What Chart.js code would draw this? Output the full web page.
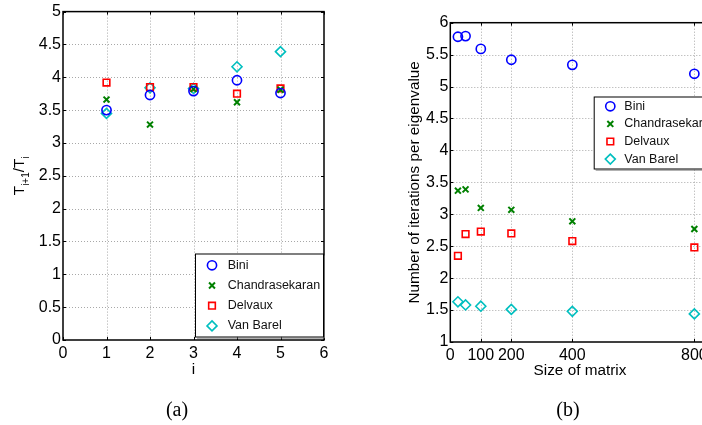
<!DOCTYPE html>
<html><head><meta charset="utf-8">
<script src="https://cdn.jsdelivr.net/npm/chart.js@4/dist/chart.umd.min.js"></script>
<style>
html,body{margin:0;padding:0;background:#fff;overflow:hidden;width:702px;height:425px;}
#wrap{position:relative;width:702px;height:425px;overflow:hidden;background:#fff;}
#ca{position:absolute;left:0;top:0;}
#cb{position:absolute;left:351px;top:0;}
.cap{position:absolute;top:399px;font-family:"Liberation Serif","Times New Roman",serif;font-size:20px;line-height:20px;color:#000;width:60px;text-align:center;}
</style></head><body>
<div id="wrap">
<canvas id="ca" width="351" height="425"></canvas>
<canvas id="cb" width="400" height="425"></canvas>
<div class="cap" style="left:147px">(a)</div>
<div class="cap" style="left:538px">(b)</div>
</div>
<script>
// ---------- data ----------
const seriesNames = ['Bini', 'Chandrasekaran', 'Delvaux', 'Van Barel'];

// Panel (a): ratio T_{i+1}/T_i versus i
const iValues = [1, 2, 3, 4, 5];
const ratioBini = [3.50, 3.73, 3.79, 3.955, 3.76];
const ratioChandrasekaran = [3.66, 3.28, 3.82, 3.62, 3.81];
const ratioDelvaux = [3.92, 3.85, 3.85, 3.75, 3.83];
const ratioVanBarel = [3.45, 3.84, 3.83, 4.16, 4.39];

// Panel (b): iterations per eigenvalue versus matrix size
const matrixSizes = [25, 50, 100, 200, 400, 800];
const itersBini = [5.78, 5.79, 5.59, 5.42, 5.34, 5.20];
const itersChandrasekaran = [3.37, 3.39, 3.10, 3.07, 2.89, 2.77];
const itersDelvaux = [2.35, 2.69, 2.73, 2.70, 2.58, 2.48];
const itersVanBarel = [1.63, 1.58, 1.56, 1.51, 1.48, 1.44];
const sizeTicks = [0, 100, 200, 400, 800];

// ---------- styles ----------
const markerStyles = [
  {shape: 'circle',   color: '#0000ff', radius: 4.6, width: 1.6},
  {shape: 'crossRot', color: '#008000', radius: 4.2, width: 2},
  {shape: 'rect',     color: '#ff0000', radius: 4.7, width: 1.6},
  {shape: 'rectRot',  color: '#00bfbf', radius: 5,   width: 1.6}
];
const FONT = '"Liberation Sans", Arial, Helvetica, sans-serif';

function makeDatasets(xs, ys) {
  return ys.map((vals, k) => ({
    label: seriesNames[k],
    data: xs.map((x, j) => ({x: x, y: vals[j]})),
    showLine: false,
    pointStyle: markerStyles[k].shape,
    pointRadius: markerStyles[k].radius,
    pointHoverRadius: markerStyles[k].radius,
    pointBorderWidth: markerStyles[k].width,
    borderColor: markerStyles[k].color,
    backgroundColor: 'rgba(0,0,0,0)',
    clip: false
  }));
}

function drawMarker(ctx, st, x, y) {
  ctx.save();
  ctx.strokeStyle = st.color; ctx.lineWidth = st.width;
  ctx.beginPath();
  const r = st.radius;
  if (st.shape === 'circle') { ctx.arc(x, y, r, 0, Math.PI * 2); }
  else if (st.shape === 'crossRot') { const d = r * Math.SQRT1_2; ctx.moveTo(x - d, y - d); ctx.lineTo(x + d, y + d); ctx.moveTo(x + d, y - d); ctx.lineTo(x - d, y + d); }
  else if (st.shape === 'rect') { const s = r * Math.SQRT1_2; ctx.rect(x - s, y - s, 2 * s, 2 * s); }
  else { ctx.moveTo(x, y - r); ctx.lineTo(x + r, y); ctx.lineTo(x, y + r); ctx.lineTo(x - r, y); ctx.closePath(); }
  ctx.stroke();
  ctx.restore();
}

const decor = {
  id: 'decor',
  beforeDatasetsDraw(chart) {
    const ctx = chart.ctx, a = chart.chartArea, xs = chart.scales.x, ys = chart.scales.y;
    ctx.save();
    ctx.strokeStyle = '#a8a8a8'; ctx.lineWidth = 1; ctx.setLineDash([1, 2]);
    ctx.beginPath();
    xs.ticks.forEach(t => { const p = Math.round(xs.getPixelForValue(t.value)) + 0.5; if (p > a.left + 1 && p < a.right - 1) { ctx.moveTo(p, a.top); ctx.lineTo(p, a.bottom); } });
    ys.ticks.forEach(t => { const p = Math.round(ys.getPixelForValue(t.value)) + 0.5; if (p > a.top + 1 && p < a.bottom - 1) { ctx.moveTo(a.left, p); ctx.lineTo(a.right, p); } });
    ctx.stroke();
    ctx.restore();
  },
  afterDraw(chart, args, o) {
    const ctx = chart.ctx, a = chart.chartArea, xs = chart.scales.x, ys = chart.scales.y;
    ctx.save();
    // inward tick marks
    ctx.strokeStyle = '#000'; ctx.lineWidth = 1; ctx.setLineDash([]);
    ctx.beginPath();
    xs.ticks.forEach(t => { const p = Math.round(xs.getPixelForValue(t.value)) + 0.5; ctx.moveTo(p, a.bottom); ctx.lineTo(p, a.bottom - 3); ctx.moveTo(p, a.top); ctx.lineTo(p, a.top + 3); });
    ys.ticks.forEach(t => { const p = Math.round(ys.getPixelForValue(t.value)) + 0.5; ctx.moveTo(a.left, p); ctx.lineTo(a.left + 3, p); ctx.moveTo(a.right, p); ctx.lineTo(a.right - 3, p); });
    ctx.stroke();
    // axes box
    ctx.lineWidth = 1.5;
    ctx.strokeRect(a.left, a.top, a.right - a.left, a.bottom - a.top);
    // x title
    ctx.fillStyle = '#000';
    ctx.font = '15.3px ' + FONT; ctx.textAlign = 'center'; ctx.textBaseline = 'alphabetic';
    ctx.fillText(o.xTitle, (a.left + a.right) / 2, a.bottom + o.xTitleDy);
    // y title (rotated, with optional subscripts)
    ctx.save();
    ctx.translate(a.left - o.yTitleDx, (a.top + a.bottom) / 2);
    ctx.rotate(-Math.PI / 2);
    let total = 0;
    o.yTitle.forEach(p => { ctx.font = p.size + 'px ' + FONT; p.w = ctx.measureText(p.text).width; total += p.w; });
    let x = -total / 2; ctx.textAlign = 'left';
    o.yTitle.forEach(p => { ctx.font = p.size + 'px ' + FONT; ctx.fillText(p.text, x, p.dy); x += p.w; });
    ctx.restore();
    // legend
    const L = o.legend;
    ctx.fillStyle = '#fff';
    ctx.fillRect(L.x, L.y, L.w, L.h);
    ctx.strokeStyle = '#000'; ctx.lineWidth = 1;
    ctx.strokeRect(L.x + 0.5, L.y + 0.5, L.w, L.h);
    ctx.strokeStyle = '#666';
    ctx.beginPath(); ctx.moveTo(L.x + 2, L.y + L.h + 1.5); ctx.lineTo(L.x + L.w + 1.5, L.y + L.h + 1.5); ctx.lineTo(L.x + L.w + 1.5, L.y + 2); ctx.stroke();
    ctx.font = '12.5px ' + FONT; ctx.textAlign = 'left'; ctx.textBaseline = 'middle';
    chart.data.datasets.forEach((ds, k) => {
      const yy = L.y + L.first + k * L.step;
      drawMarker(ctx, markerStyles[k], L.x + L.mx, yy);
      ctx.fillStyle = '#111';
      ctx.fillText(ds.label, L.x + L.tx, yy);
    });
    ctx.restore();
  }
};

function fmtTick(v) { return String(Math.round(v * 100) / 100); }

function baseScale(min, max, step, widthOrHeight, horizontal, extra) {
  const s = {
    type: 'linear', min: min, max: max,
    grid: {display: false, drawTicks: false},
    border: {display: false},
    ticks: {stepSize: step, color: '#000', font: {family: FONT, size: 16}, padding: horizontal ? 3.5 : 2, autoSkip: false, maxRotation: 0, minRotation: 0, callback: fmtTick},
    afterFit(sc) { if (horizontal) sc.height = widthOrHeight; else sc.width = widthOrHeight; }
  };
  return Object.assign(s, extra || {});
}

Chart.defaults.animation = false;

new Chart(document.getElementById('ca'), {
  type: 'scatter',
  data: {datasets: makeDatasets(iValues, [ratioBini, ratioChandrasekaran, ratioDelvaux, ratioVanBarel])},
  options: {
    responsive: false, animation: false, events: [],
    layout: {padding: {left: 0, top: 10, right: 27, bottom: 0}},
    scales: {
      x: baseScale(0, 6, 1, 85, true),
      y: baseScale(0, 5, 0.5, 63, false)
    },
    plugins: {
      legend: {display: false}, tooltip: {enabled: false},
      decor: {
        xTitle: 'i', xTitleDy: 33.5, yTitleDx: 39.5,
        yTitle: [{text: 'T', size: 15.3, dy: 0}, {text: 'i+1', size: 10, dy: 5}, {text: '/T', size: 15.3, dy: 0}, {text: 'i', size: 10, dy: 5}],
        legend: {x: 195, y: 253.5, w: 128, h: 83, first: 11.8, step: 20.2, mx: 17, tx: 32.7}
      }
    }
  },
  plugins: [decor]
});

new Chart(document.getElementById('cb'), {
  type: 'scatter',
  data: {datasets: makeDatasets(matrixSizes, [itersBini, itersChandrasekaran, itersDelvaux, itersVanBarel])},
  options: {
    responsive: false, animation: false, events: [],
    layout: {padding: {left: 0, top: 22.7, right: 41.4, bottom: 0}},
    scales: {
      x: baseScale(0, 850, 100, 83, true, {
        afterBuildTicks(sc) { sc.ticks = sizeTicks.map(v => ({value: v})); }
      }),
      y: baseScale(1, 6, 0.5, 99.3, false)
    },
    plugins: {
      legend: {display: false}, tooltip: {enabled: false},
      decor: {
        xTitle: 'Size of matrix', xTitleDy: 32.5, yTitleDx: 31,
        yTitle: [{text: 'Number of iterations per eigenvalue', size: 15.3, dy: 0}],
        legend: {x: 242.7, y: 96.5, w: 128, h: 72, first: 9.8, step: 17.6, mx: 16.6, tx: 30.6}
      }
    }
  },
  plugins: [decor]
});
</script>
</body></html>
